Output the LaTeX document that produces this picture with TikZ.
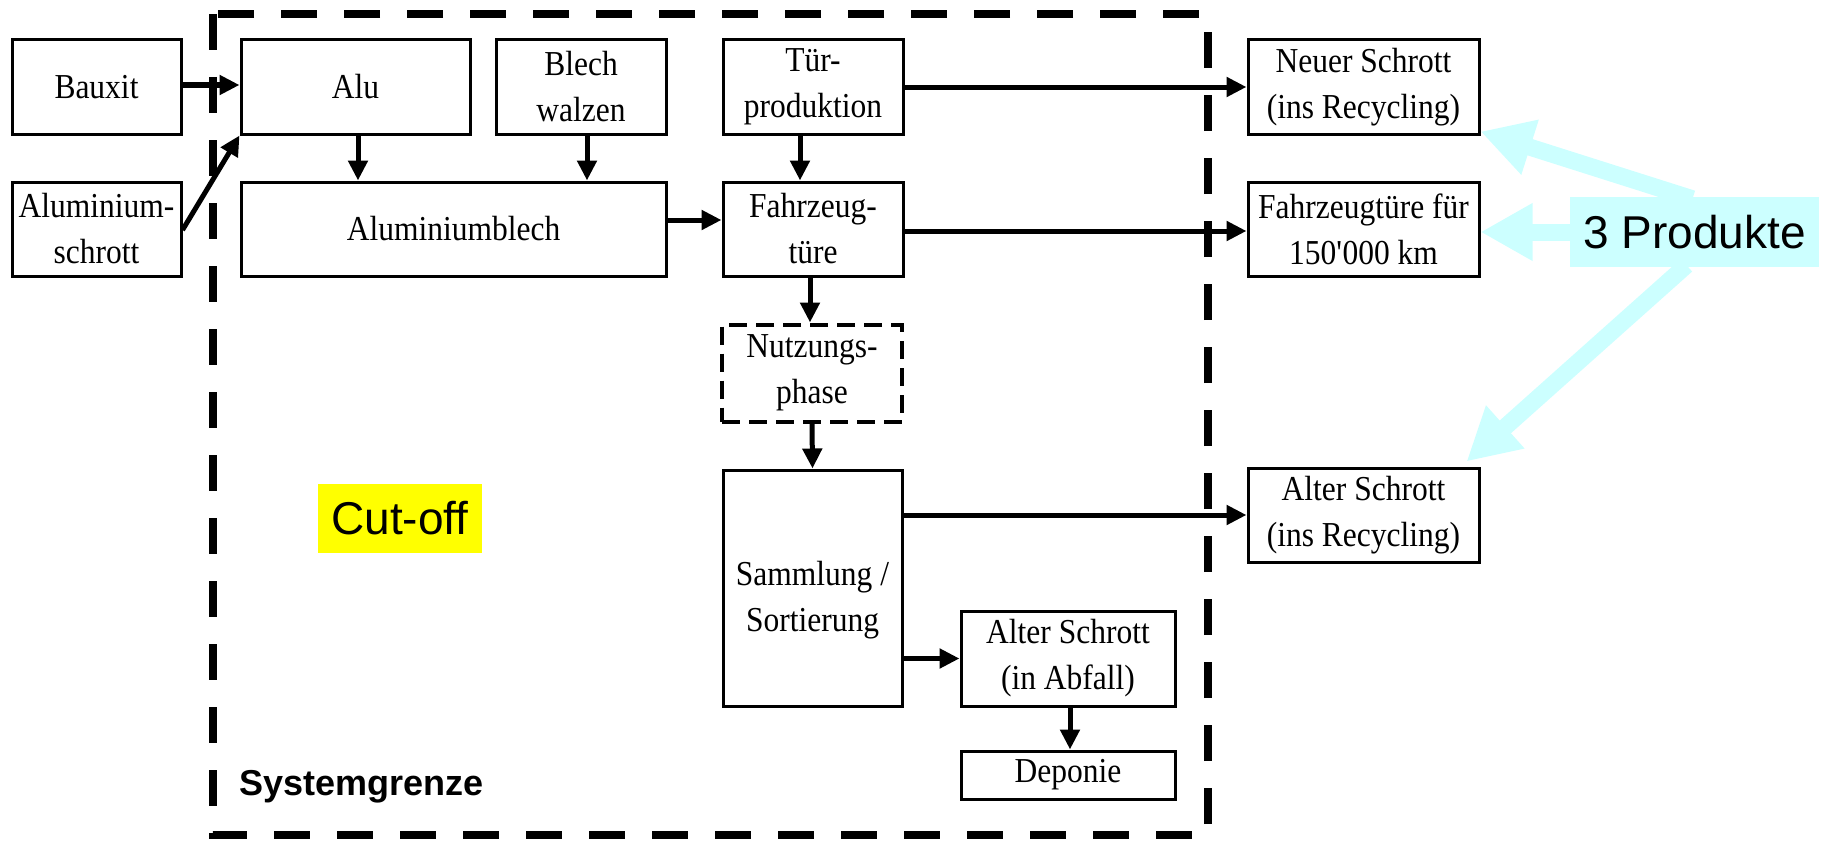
\documentclass[tikz,border=0pt]{standalone}
\usepackage{fontspec}
\setmainfont[FakeStretch=0.9]{Liberation Serif}
\setsansfont{Liberation Sans}
\usetikzlibrary{arrows.meta,calc}
\definecolor{cyanl}{HTML}{CCFFFF}
\definecolor{ylw}{HTML}{FFFF00}
\begin{document}
\begin{tikzpicture}[x=1pt,y=-1pt,
  box/.style={draw, line width=3pt, align=center, inner sep=0pt,
    font=\fontsize{35}{46}\selectfont, minimum height=94pt},
  dbox/.style={box, line width=4pt, dash pattern=on 18pt off 9pt},
  flow/.style={line width=5pt, -{Triangle[length=20pt,width=19pt]}},
  hint/.style={cyanl, line width=17pt, -{Triangle[length=52pt,width=54pt]}},
  boundary/.style={line width=8pt, dash pattern=on 36pt off 27pt},
  lbl/.style={inner sep=0pt, font=\sffamily\fontsize{46}{50}\selectfont}]
\useasboundingbox (0,0) rectangle (1826,843);

% system boundary
\draw[boundary] (213,14) rectangle (1208,835);

% boxes
\node[box, minimum width=169pt] (bauxit) at (96.5,87) {Bauxit};
\node[box, minimum width=169pt] (schrott) at (96.5,229) {Aluminium-\\schrott};
\node[box, minimum width=229pt] (alu) at (355.5,87) {Alu};
\node[box, minimum width=170pt] (blech) at (581,87) {Blech\\walzen};
\node[box, minimum width=425pt] (alublech) at (453.5,229) {Aluminiumblech};
\node[box, minimum width=180pt] (tuer) at (813,87) {Tür-\\produktion};
\node[box, minimum width=180pt] (fzt) at (813,229) {Fahrzeug-\\türe};
\node[dbox, minimum width=180pt, minimum height=97pt] (nutz) at (812,373) {Nutzungs-\\phase};
\node[box, minimum width=179pt, minimum height=236pt] (samm) at (812.5,588) {\\[2pt]Sammlung /\\Sortierung};
\node[box, minimum width=214pt, minimum height=95pt] (abfall) at (1068,658.5) {Alter Schrott\\(in Abfall)};
\node[box, minimum width=214pt, minimum height=48pt] (depo) at (1068,775) {Deponie};
\node[box, minimum width=231pt] (neu) at (1363.5,87) {Neuer Schrott\\(ins Recycling)};
\node[box, minimum width=231pt] (fzf) at (1363.5,229) {Fahrzeugtüre für\\150\textquotesingle 000 km};
\node[box, minimum width=231pt] (alt) at (1363.5,515) {Alter Schrott\\(ins Recycling)};

% flows
\draw[flow] (bauxit.east |- 0,85) -- (alu.west |- 0,85);
\draw[flow] ($(schrott.east)+(0,1)$) -- (alu.south west);
\draw[flow] ($(alu.south)+(2.5,0)$) -- ($(alublech.north -| alu.south)+(2.5,0)$);
\draw[flow] ($(blech.south)+(6,0)$) -- ($(alublech.north -| blech.south)+(6,0)$);
\draw[flow] ($(alublech.east)+(0,-9)$) -- ($(fzt.west)+(0,-9)$);
\draw[flow] ($(tuer.south)+(-13,0)$) -- ($(fzt.north)+(-13,0)$);
\draw[flow] (tuer.east) -- (neu.west);
\draw[flow] ($(fzt.east)+(0,2)$) -- ($(fzf.west)+(0,2)$);
\draw[flow] ($(fzt.south)+(-3,0)$) -- ($(nutz.north)+(-2,0)$);
\draw[flow] (nutz.south) -- (samm.north);
\draw[flow] (samm.east |- alt.west) -- (alt.west);
\draw[flow] (samm.east |- abfall.west) -- (abfall.west);
\draw[flow] ($(abfall.south)+(2,0)$) -- ($(depo.north)+(2,0)$);

% labels
\node[lbl, fill=ylw, minimum width=164pt, minimum height=69pt] (cut) at (400,518.5) {Cut-off};
\node[anchor=base west, inner sep=0pt, font=\sffamily\bfseries\fontsize{36}{40}\selectfont] (sg) at (239,795) {Systemgrenze};
\node[lbl, fill=cyanl, minimum width=249pt, minimum height=70pt] (prod) at (1694.5,232) {3 Produkte};

\draw[hint] ($(prod.north)+(-2,2)$) -- ($(neu.south east)+(0,-4)$);
\draw[hint] (prod.west) -- (fzf.east |- prod.west);
\draw[hint] ($(prod.south)+(-8,-2)$) -- ($(alt.north east)+(-14,-5)$);
\end{tikzpicture}
\end{document}
